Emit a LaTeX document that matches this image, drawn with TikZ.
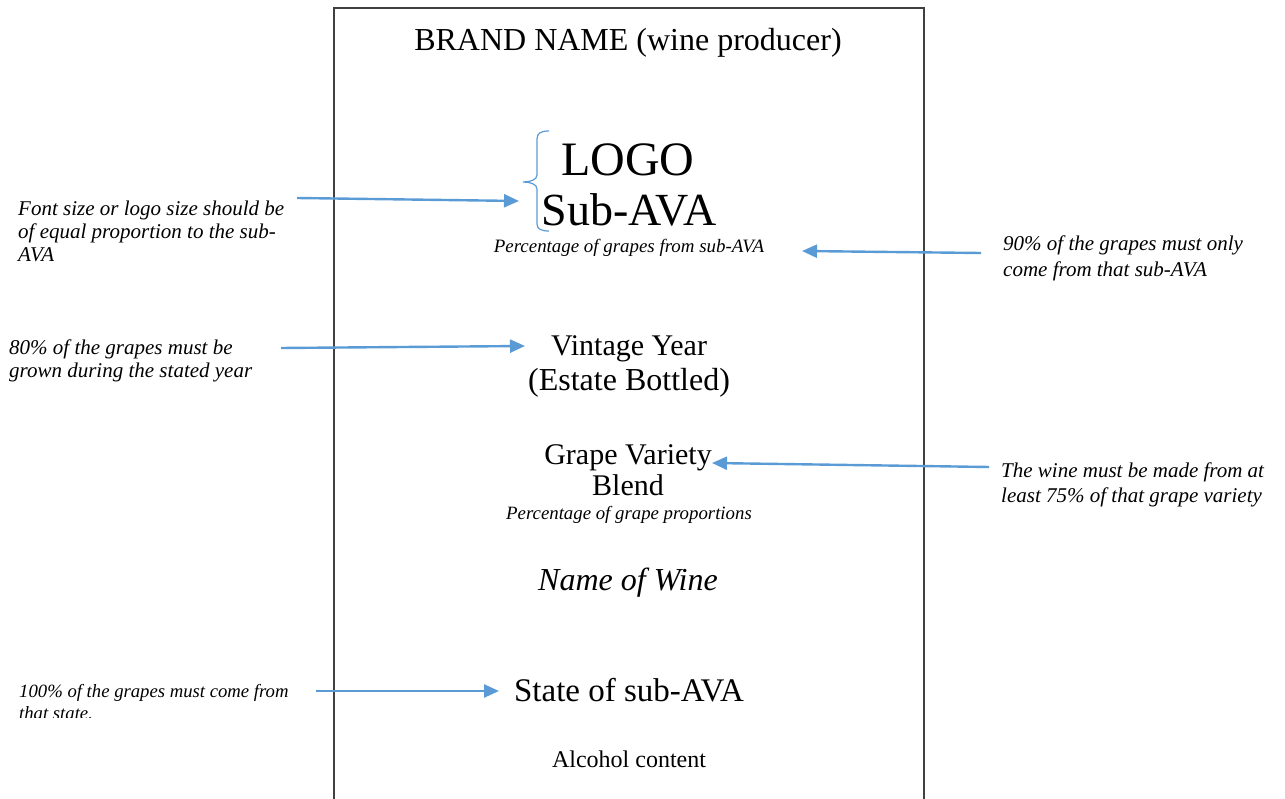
\documentclass[tikz,border=0pt]{standalone}
\usepackage{fontspec}
\setmainfont{Liberation Serif}
\usetikzlibrary{arrows.meta}
\definecolor{callout}{HTML}{5B9BD5}
\definecolor{labelframe}{HTML}{404040}

\begin{document}
\begin{tikzpicture}[x=1pt,y=-1pt,
  txt/.style={inner sep=0pt, anchor=base},
  note/.style={inner sep=0pt, anchor=base west, font=\fontsize{21}{23}\selectfont\itshape},
  rnote/.style={inner sep=0pt, anchor=base west, font=\fontsize{21}{25.5}\selectfont\itshape},
  pointer/.style={draw=callout, line width=2.4pt, -{Triangle[length=15pt,width=13pt]}},
  bracket/.style={draw=callout, line width=1.2pt}]
\useasboundingbox (0,0) rectangle (1285,799);

% label outline (runs off the bottom edge)
\draw[labelframe, line width=1.3pt] (334,805) -- (334,8) -- (924,8) -- (924,805);

% label contents
\node[txt, font=\fontsize{32}{38}\selectfont] (brand) at (628,51) {BRAND NAME (wine producer)};
\node[txt, font=\fontsize{48}{50}\selectfont] (logo) at (628,176) {LOGO};
\node[txt, font=\fontsize{46}{50}\selectfont] (subava) at (629,226) {Sub-AVA};
\node[txt, font=\fontsize{18.9}{22}\selectfont\itshape] (pctsub) at (629,253) {Percentage of grapes from sub-AVA};
\node[txt, font=\fontsize{30}{35}\selectfont] (vintage) at (629,356)
  {\begin{tabular}[t]{@{}c@{}}Vintage Year\\{\fontsize{32}{35}\selectfont(Estate Bottled)}\end{tabular}};
\node[txt, font=\fontsize{30}{32}\selectfont] (variety) at (628,464)
  {\begin{tabular}[t]{@{}c@{}}Grape Variety\\Blend\end{tabular}};
\node[txt, font=\fontsize{18.8}{20}\selectfont\itshape] (pctblend) at (629,519) {Percentage of grape proportions};
\node[txt, font=\fontsize{32}{36}\selectfont\itshape] (wine) at (628,590) {Name of Wine};
\node[txt, font=\fontsize{33}{36}\selectfont] (state) at (629,701) {State of sub-AVA};
\node[txt, font=\fontsize{24}{28}\selectfont] (alcohol) at (629,767) {Alcohol content};

% brace grouping logo and sub-AVA
\draw[bracket] (549,131) .. controls (541,131) and (537,133) .. (537,139)
  -- (537,175) .. controls (537,180) and (530,182) .. (523,182)
  .. controls (530,182) and (537,184) .. (537,189)
  -- (537,224) .. controls (537,229) and (541,231) .. (549,231);

% side notes
\node[note] (nfont) at (18,216)
  {\begin{tabular}[t]{@{}l@{}}Font size or logo size should be\\of equal proportion to the sub-\\AVA\end{tabular}};
\node[note] (nvintage) at (9,355)
  {\begin{tabular}[t]{@{}l@{}}80\% of the grapes must be\\grown during the stated year\end{tabular}};
\begin{scope}
  \clip (0,600) rectangle (330,717);
  \node[note, font=\fontsize{18.7}{22}\selectfont\itshape] (nstate) at (19,697)
    {\begin{tabular}[t]{@{}l@{}}100\% of the grapes must come from\\that state.\end{tabular}};
\end{scope}
\node[rnote] (nsub) at (1003,251)
  {\begin{tabular}[t]{@{}l@{}}90\% of the grapes must only\\come from that sub-AVA\end{tabular}};
\node[rnote] (nvariety) at (1001,477)
  {\begin{tabular}[t]{@{}l@{}}The wine must be made from at\\least 75\% of that grape variety\end{tabular}};

% pointer end points
\coordinate (a1s) at (297,198);  \coordinate (a1e) at (519,201);
\coordinate (a2s) at (981,253);  \coordinate (a2e) at (802,251);
\coordinate (a3s) at (281,348);  \coordinate (a3e) at (525,346);
\coordinate (a4s) at (989,467);  \coordinate (a4e) at (712,463);
\coordinate (a5s) at (316,691);  \coordinate (a5e) at (499,691);

\draw[pointer] (a1s) -- (a1e);
\draw[pointer] (a2s) -- (a2e);
\draw[pointer] (a3s) -- (a3e);
\draw[pointer] (a4s) -- (a4e);
\draw[pointer] (a5s) -- (a5e);
\end{tikzpicture}
\end{document}
